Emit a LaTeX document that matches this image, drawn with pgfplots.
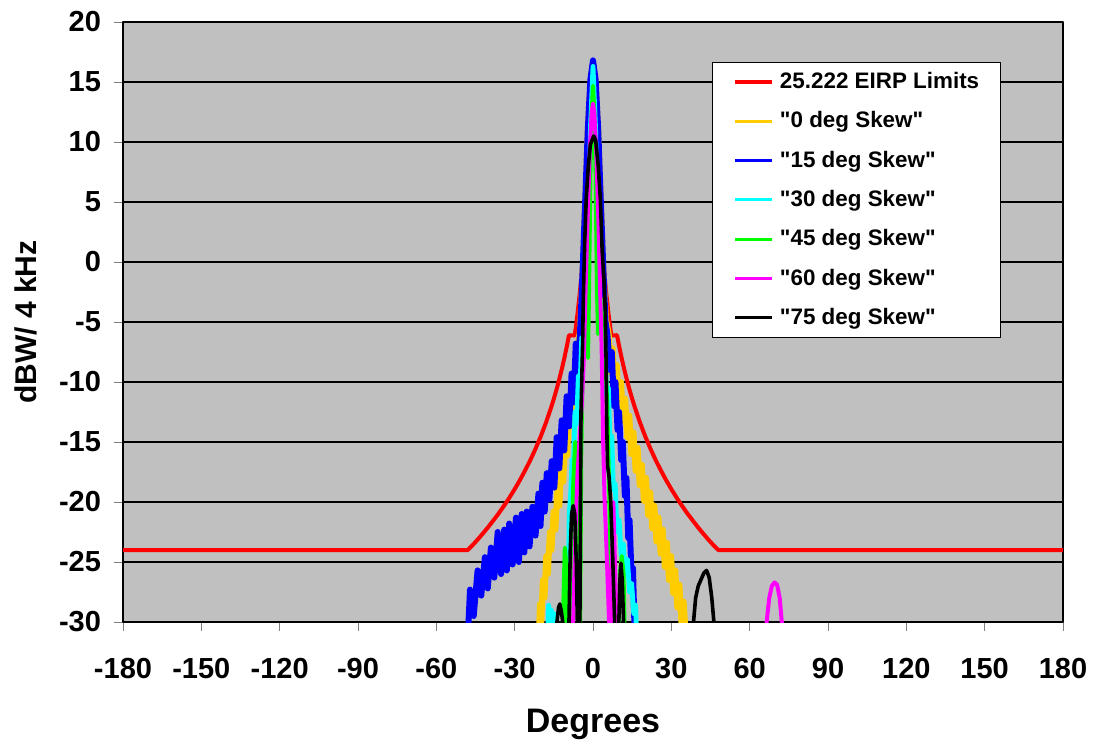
\documentclass[border=0pt]{standalone}
\usepackage{fontspec}
\setmainfont{Liberation Sans}
\usepackage{pgfplots}
\pgfplotsset{compat=1.18}
\definecolor{bggray}{HTML}{C0C0C0}
\definecolor{cyel}{HTML}{FFCC00}
\definecolor{cblu}{HTML}{0000FF}
\definecolor{ccya}{HTML}{00FFFF}
\definecolor{cgrn}{HTML}{00FF00}
\definecolor{cmag}{HTML}{FF00FF}
\definecolor{cred}{HTML}{FF0000}
\newcommand{\q}{\textquotedbl}
\begin{document}
\begin{tikzpicture}
\path[use as bounding box] (-61.5pt,-61pt) rectangle (486.5pt,311pt);
\begin{axis}[
  at={(0,0)}, anchor=south west,
  scale only axis, width=470pt, height=300pt,
  xmin=-180, xmax=180, ymin=-30, ymax=20,
  xtick={-180,-150,...,180}, ytick={-30,-25,...,20},
  xticklabels={-180,-150,-120,-90,-60,-30,0,30,60,90,120,150,180},
  yticklabels={-30,-25,-20,-15,-10,-5,0,5,10,15,20},
  tick align=outside, major tick length=4.5pt,
  tick style={gray, line width=0.5pt},
  tick pos=left,
  ymajorgrids, grid style={black, line width=0.9pt},
  axis background/.style={fill=bggray},
  axis line style={black, line width=1.2pt},
  xticklabel style={font=\fontsize{14.5}{16}\selectfont\bfseries, yshift=-10pt},
  yticklabel style={font=\fontsize{14.5}{16}\selectfont\bfseries, xshift=-3pt},
  xlabel={Degrees},
  xlabel style={at={(axis description cs:0.5,-0.170)}, anchor=center, font=\fontsize{17}{20}\selectfont\bfseries},
  ylabel={dBW/ 4 kHz},
  ylabel style={at={(axis description cs:-0.1032,0.5)}, anchor=center, font=\fontsize{15}{18}\selectfont\bfseries},
  legend style={at={(0.6268,0.9337)}, anchor=north west, draw=black, line width=0.6pt, fill=white,
    inner xsep=10.5pt, inner ysep=0pt, row sep=0pt, column sep=3pt,
    font=\fontsize{11.2}{13}\selectfont\bfseries,
    nodes={inner sep=0pt, minimum height=19.64pt, anchor=west}},
  legend cell align=left,
  legend image code/.code={\draw[#1, line width=1.6pt] (0pt,0pt) -- (18.5pt,0pt);},
  line join=round,
]
\addplot[cred, line width=2pt] coordinates {
(-180,-24) (-48,-24) (-46,-23.57) (-44,-23.09) (-42,-22.58) (-40,-22.05) (-38,-21.49) (-36,-20.91) (-34,-20.29) (-32,-19.63) (-30,-18.93) (-28,-18.18) (-26,-17.37) (-24,-16.51) (-22,-15.56) (-20,-14.53) (-18,-13.38) (-16,-12.10) (-15,-11.40) (-14,-10.65) (-13,-9.85) (-12,-8.98) (-11,-8.03) (-10,-7.00) (-9.2,-6.10) (-7,-6.13) (-6,-4.45) (-5,-2.47) (-4,-0.05) (-3,3.07) (-2.5,5.05) (-2,7.47) (-1.5,10.60) (-1,15)
(1,15) (1.5,10.60) (2,7.47) (2.5,5.05) (3,3.07) (4,-0.05) (5,-2.47) (6,-4.45) (7,-6.13) (9.2,-6.10) (10,-7.00) (11,-8.03) (12,-8.98) (13,-9.85) (14,-10.65) (15,-11.40) (16,-12.10) (18,-13.38) (20,-14.53) (22,-15.56) (24,-16.51) (26,-17.37) (28,-18.18) (30,-18.93) (32,-19.63) (34,-20.29) (36,-20.91) (38,-21.49) (40,-22.05) (42,-22.58) (44,-23.09) (46,-23.57) (48,-24) (180,-24)
};
\addlegendentry{25.222 EIRP Limits}
\addplot[cyel, line width=3pt] coordinates {
(-21.0,-33) (-20.3,-28.5) (-19.8,-30) (-19.2,-26.5) (-18.6,-28) (-17.9,-24.5) (-17.3,-26) (-16.5,-22.5) (-15.9,-24) (-15.1,-20.8) (-14.4,-22.3) (-13.6,-18.8) (-12.9,-20.3) (-12.1,-16.8) (-11.4,-18.3) (-10.6,-14.6) (-9.9,-16.1) (-9.1,-12.2) (-8.4,-13.7) (-7.6,-9.6) (-6.9,-11.1) (-6.1,-7.2) (-5.0,-5.8) (-4.0,-1) (-3.0,5) (-2.0,11) (-1.0,14.8) (0,16.5) (1.0,14.8) (2.0,11) (3.0,5) (4.0,-1) (5.0,-4.8) (6.0,-6)
(6.8,-9.2) (7.5,-7.2) (8.3,-10.6) (9.1,-8.6) (9.9,-11.9) (10.7,-10) (11.5,-13.3) (12.3,-11.4) (13.1,-14.6) (13.9,-12.8) (14.7,-16) (15.5,-14.2) (16.3,-17.4) (17.1,-15.5) (17.9,-18.6) (18.7,-16.9) (19.5,-19.9) (20.3,-18) (21.1,-21.1) (21.9,-19.2) (22.7,-22.2) (23.5,-20.3) (24.3,-23.3) (25.1,-21.3) (25.9,-24.3) (26.7,-22.3) (27.5,-25.4) (28.3,-23.4) (29.1,-26.5) (29.9,-24.5) (30.7,-27.6) (31.5,-25.7) (32.3,-28.8) (33.1,-26.9) (33.9,-30.1) (34.7,-28.3) (35.5,-31) (36.2,-33)
};
\addlegendentry{\q0 deg Skew\q}
\addplot[cblu, line width=3pt] coordinates {
(-48.3,-33) (-47.1,-27.3) (-45.7,-29.5) (-44.2,-25.7) (-42.8,-27.8) (-41.4,-24.6) (-40.3,-27.2) (-39.1,-23.8) (-37.8,-26.3) (-36.5,-22.5) (-35.2,-26.0) (-34.0,-22.3) (-33.0,-25.7) (-32.1,-21.8) (-30.8,-25.2) (-29.5,-21.3) (-28.4,-25.0) (-27.3,-21.0) (-26.3,-24.2) (-25.4,-20.8) (-24.3,-23.7) (-23.2,-20.4) (-22.0,-22.8) (-20.9,-19.3) (-20.1,-22.0) (-19.4,-18.4) (-18.5,-20.8) (-17.7,-17.6) (-16.7,-19.8) (-15.8,-16.6) (-14.8,-18.8) (-13.9,-14.6) (-12.9,-17.2) (-12.0,-13.2) (-11.0,-15.7) (-10.1,-11.2) (-9.1,-13.7) (-8.2,-9.3) (-7.4,-11.7) (-6.6,-6.8) (-5.8,-9.0) (-5.0,-6.0) (-4.5,-3.5) (-4.0,-0.8) (-3.0,5) (-2.0,11) (-1.0,15.2) (0,16.8)
(1.0,15.2) (2.0,11) (3.0,5) (4.0,-0.8) (4.8,-5) (5.5,-6) (6.5,-9) (7.2,-7.5) (8.0,-12) (8.6,-10) (9.4,-14) (10.0,-12.5) (10.8,-16.5) (11.4,-15) (12.2,-19.5) (12.8,-18) (13.5,-23) (14.0,-21.5) (14.8,-26.5) (15.3,-25.5) (16.2,-33)
};
\addlegendentry{\q15 deg Skew\q}
\addplot[ccya, line width=2.4pt] coordinates {
(-17.6,-33) (-17.0,-28.6) (-16.5,-31) (-16.0,-29.0) (-15.5,-33) (-15.0,-29.3) (-14.4,-33) (-9.8,-33) (-9.1,-21) (-8.6,-19.5) (-8.0,-16.5) (-7.5,-17) (-6.9,-12.5) (-6.3,-13.5) (-5.6,-9.5) (-5.0,-10.5) (-4.3,-6.3) (-3.8,-7.5) (-3.2,-4) (-2.5,-6) (-1.8,2) (-1.0,11) (0,16.3)
(1.0,11) (1.8,2) (2.5,-5) (3.2,-4) (3.9,-8) (4.5,-7) (5.2,-11) (5.9,-10.5) (6.5,-15) (7.2,-14.5) (7.8,-19) (8.5,-18.5) (9.2,-22.5) (10.0,-21.5) (10.8,-24.5) (11.6,-23.5) (12.4,-26) (13.2,-24.8) (14.0,-27.5) (14.8,-26.8) (15.6,-29.3) (16.3,-28.6) (17.0,-33)
};
\addlegendentry{\q30 deg Skew\q}
\addplot[cgrn, line width=2pt] coordinates {
(-11.8,-33) (-11.3,-28) (-10.8,-23.8) (-10.3,-25) (-9.9,-33) (-8.9,-33) (-8.3,-25) (-7.5,-18) (-6.8,-15) (-6.2,-16) (-5.5,-22) (-5.0,-33) (-4.5,-16) (-3.9,-8) (-3.2,-3) (-2.5,-4) (-1.9,-8) (-1.5,-2) (-1.0,7) (-0.5,12.5) (0,14.7)
(0.5,12.5) (1.0,7) (1.5,-2) (1.9,-6) (2.4,-4) (3.0,-3) (3.8,-6) (4.6,-8) (5.4,-11.4) (6.3,-20) (7.2,-33) (9.7,-33) (10.3,-26) (11.0,-24.5) (11.7,-26) (12.3,-33)
};
\addlegendentry{\q45 deg Skew\q}
\addplot[cmag, line width=2pt] coordinates {
(-8.0,-33) (-7.5,-29) (-6.8,-23) (-6.0,-18) (-5.2,-15) (-4.3,-12) (-3.5,-8) (-2.8,-2) (-2.0,4) (-1.2,9.5) (-0.5,12.5) (0,13.2) (0.5,12.5) (1.2,9.5) (2.0,4) (2.8,-3) (3.3,-7) (3.9,-15) (4.4,-19.5) (5.2,-24) (6.0,-29) (6.6,-33) (7.2,-25) (7.8,-20) (8.4,-25) (9.0,-30) (9.5,-33)
(66.0,-33) (66.5,-30) (67.5,-28) (68.5,-27) (69.5,-26.7) (70.5,-26.9) (71.5,-28) (72.3,-30) (72.8,-33)
};
\addlegendentry{\q60 deg Skew\q}
\addplot[black, line width=1.8pt] coordinates {
(-14.2,-33) (-13.8,-30) (-13.2,-28.8) (-12.7,-28.5) (-12.2,-29) (-11.6,-30) (-11.3,-33) (-9.6,-33) (-9.2,-30) (-8.7,-24) (-8.2,-21) (-7.6,-20.3) (-7.0,-21) (-6.4,-25) (-6.0,-30) (-5.8,-33) (-5.1,-33) (-4.9,-25) (-4.6,-12.5) (-4.0,-7) (-3.7,-3) (-3.2,1.5) (-2.6,5.2) (-1.8,8) (-1.0,9.8) (0.3,10.5)
(1.0,10.2) (2.0,8) (2.8,5.3) (3.5,1) (4.2,-1.5) (4.7,-4) (5.0,-8) (5.3,-14) (5.6,-17) (6.2,-18) (6.8,-20) (7.6,-25) (8.3,-30) (8.6,-33) (9.6,-33) (9.9,-30) (10.3,-26.5) (10.7,-25.1) (11.2,-26.5) (11.7,-30) (12.0,-33)
(38.0,-33) (38.5,-30) (39.3,-28) (40.3,-27) (41.3,-26.5) (42.5,-25.9) (43.5,-25.7) (44.5,-26.3) (45.5,-28) (46.3,-30) (46.8,-33)
};
\addlegendentry{\q75 deg Skew\q}
\end{axis}
\end{tikzpicture}
\end{document}
